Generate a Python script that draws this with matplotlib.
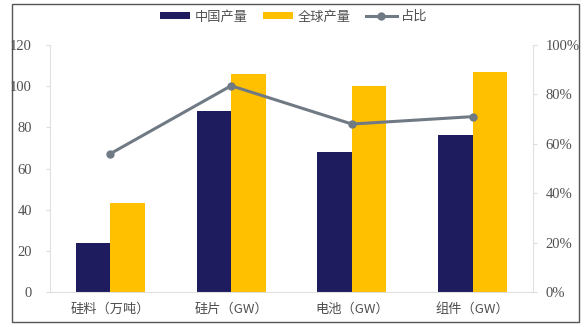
import matplotlib
matplotlib.use("Agg")
import matplotlib.pyplot as plt
from matplotlib.patches import Rectangle
from matplotlib.ticker import FuncFormatter
import numpy as np

categories = ["硅料（万吨）", "硅片（GW）", "电池（GW）", "组件（GW）"]
china_output = [24, 88, 68, 76.5]
global_output = [43, 106, 100, 107]
share_pct = [56, 83.5, 68, 71]
left_ticks = [0, 20, 40, 60, 80, 100, 120]
right_ticks = [0, 20, 40, 60, 80, 100]
series_names = ["中国产量", "全球产量", "占比"]

cjk = ["Noto Sans CJK SC", "DejaVu Sans"]
serif = ["Liberation Serif", "DejaVu Serif"]

fig = plt.figure(figsize=(5.87, 3.27), dpi=100)
fig.patch.set_facecolor("white")
fig.patches.append(Rectangle((12/587, 1-322/327), (579-12)/587, (322-4)/327,
                             transform=fig.transFigure, fill=False,
                             edgecolor="#555555", linewidth=1.0))

ax = fig.add_axes([50/587, 35/327, 483/587, 247/327])
x = np.arange(len(categories))
w = 0.285
navy = "#1E1B5E"
gold = "#FFC000"
b1 = ax.bar(x - w/2, china_output, w, color=navy, label=series_names[0])
b2 = ax.bar(x + w/2, global_output, w, color=gold, label=series_names[1])
ax.set_xlim(-0.5, 3.5)
ax.set_ylim(0, 120)
ax.set_yticks(left_ticks)
ax.set_xticks(x)
ax.set_xticklabels(categories, fontfamily=cjk, fontsize=9.5, color="#505050")
for lbl in ax.get_yticklabels():
    lbl.set_fontfamily(serif)
ax.tick_params(axis="y", labelsize=10.5, colors="#505050", length=3, color="#dddddd", pad=10)
ax.tick_params(axis="x", length=0, pad=8)
for s in ["top", "right"]:
    ax.spines[s].set_visible(False)
for s in ["left", "bottom"]:
    ax.spines[s].set_color("#e0e0e0")

ax2 = ax.twinx()
ln, = ax2.plot(x, share_pct, color="#707A84", linewidth=2.2, marker="o",
               markersize=5, label=series_names[2])
ax2.set_ylim(0, 100)
ax2.set_yticks(right_ticks)
ax2.yaxis.set_major_formatter(FuncFormatter(lambda v, p: f"{int(v)}%"))
for lbl in ax2.get_yticklabels():
    lbl.set_fontfamily(serif)
ax2.tick_params(axis="y", labelsize=10.5, colors="#505050", length=3, color="#dddddd", pad=6)
for s in ["top", "left", "bottom"]:
    ax2.spines[s].set_visible(False)
ax2.spines["right"].set_color("#e0e0e0")

fig.legend([b1, b2, ln], series_names, loc="upper center", bbox_to_anchor=(0.5, 1.005),
           ncol=3, frameon=False, prop={"family": cjk, "size": 9.5},
           handlelength=2.3, handleheight=0.5, columnspacing=1.2, handletextpad=0.3,
           labelcolor="#505050")

fig.savefig("out.png", dpi=100)
